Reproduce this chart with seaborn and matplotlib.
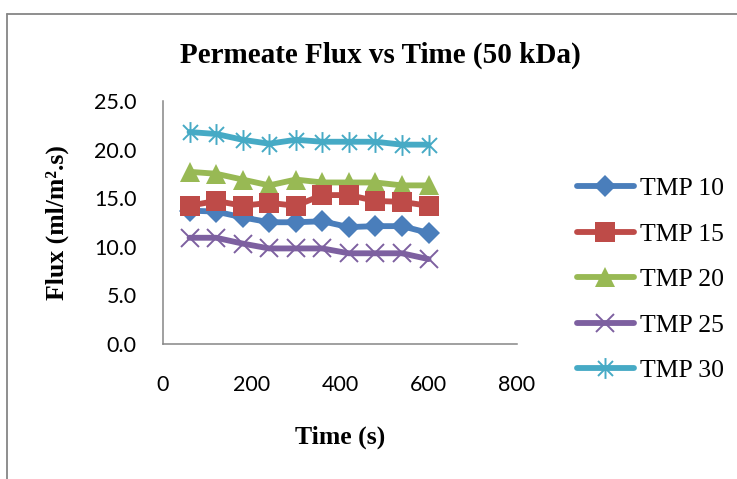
import matplotlib
matplotlib.use("Agg")
import matplotlib.pyplot as plt
from matplotlib.path import Path
from matplotlib.lines import Line2D
import seaborn as sns
import pandas as pd

time_s = [60, 120, 180, 240, 300, 360, 420, 480, 540, 600]
tmp10 = [13.7, 13.6, 13.0, 12.5, 12.5, 12.6, 12.0, 12.1, 12.1, 11.4]
tmp15 = [14.2, 14.7, 14.2, 14.5, 14.2, 15.3, 15.3, 14.7, 14.6, 14.2]
tmp20 = [17.7, 17.5, 16.9, 16.3, 16.9, 16.6, 16.6, 16.6, 16.3, 16.3]
tmp25 = [10.9, 10.9, 10.3, 9.8, 9.8, 9.8, 9.3, 9.3, 9.3, 8.7]
tmp30 = [21.8, 21.6, 21.0, 20.6, 21.0, 20.8, 20.8, 20.8, 20.5, 20.5]
series_names = ["TMP 10", "TMP 15", "TMP 20", "TMP 25", "TMP 30"]
series_values = [tmp10, tmp15, tmp20, tmp25, tmp30]
x_ticks = [0, 200, 400, 600, 800]
y_ticks = [0, 5, 10, 15, 20, 25]

sns.set_theme(style="white")
plt.rcParams["text.color"] = "black"

star = Path([(0, -1), (0, 1), (-0.72, -0.72), (0.72, 0.72), (-0.72, 0.72), (0.72, -0.72)],
            [Path.MOVETO, Path.LINETO, Path.MOVETO, Path.LINETO, Path.MOVETO, Path.LINETO])

styles = [
    dict(color="#4A7EBB", marker="D", markersize=11.5, mew=0, zorder=3),
    dict(color="#BE4B48", marker="s", markersize=14.5, mew=0, zorder=5),
    dict(color="#98B954", marker="^", markersize=14.5, mew=0, zorder=4),
    dict(color="#7D60A0", marker="x", markersize=13.5, mew=1.4, zorder=6),
    dict(color="#46AAC5", marker=star, markersize=15, mew=1.4, zorder=7),
]

fig = plt.figure(figsize=(7.37, 4.79), dpi=100)
ax = fig.add_axes([163 / 737, 1 - 343.5 / 479, (517 - 163) / 737, (343.5 - 101) / 479])

for name, vals, st in zip(series_names, series_values, styles):
    df = pd.DataFrame({"time": time_s, "flux": vals})
    sns.lineplot(data=df, x="time", y="flux", ax=ax, label=name, linewidth=4.2,
                 color=st["color"], marker=st["marker"], markersize=st["markersize"],
                 markeredgewidth=st["mew"], markeredgecolor=st["color"],
                 zorder=st["zorder"], solid_capstyle="round", solid_joinstyle="round")

ax.set_xlim(0, 800)
ax.set_ylim(0, 25)
ax.set_xticks(x_ticks)
ax.set_yticks(y_ticks)
tick_font = dict(family="Lato", size=15.5, color="black")
ax.set_xticklabels([str(v) for v in x_ticks], **tick_font)
ax.set_yticklabels([f"{v:.1f}" for v in y_ticks], **tick_font)
ax.tick_params(axis="x", length=0, pad=23)
ax.tick_params(axis="y", length=0, pad=19)
for s in ["top", "right"]:
    ax.spines[s].set_visible(False)
for s in ["left", "bottom"]:
    ax.spines[s].set_color("#868686")
    ax.spines[s].set_linewidth(1.1)
ax.grid(False)

lab_font = dict(family="Liberation Serif", weight="bold", size=18.5, color="black")
ax.set_xlabel("Time (s)", labelpad=22, **lab_font)
ax.set_ylabel("Flux (ml/m².s)", labelpad=18, **lab_font)
fig.text(380 / 737, 1 - 55 / 479, "Permeate Flux vs Time (50 kDa)", ha="center", va="center",
         family="Liberation Serif", weight="bold", size=21, color="black")

leg = ax.legend(loc="upper left", bbox_to_anchor=(577 / 737, 1 - 177 / 479),
                bbox_transform=fig.transFigure, frameon=False, borderpad=0, borderaxespad=0,
                handlelength=2.2, handletextpad=0.25, labelspacing=0.88,
                prop=dict(family="Liberation Serif", size=18.5))
for t in leg.get_texts():
    t.set_color("black")

# outer chart frame (left and top edges visible)
fig.add_artist(Line2D([7 / 737, 7 / 737], [0, 1 - 14 / 479], transform=fig.transFigure,
                      color="#868686", lw=1.3))
fig.add_artist(Line2D([7 / 737, 1], [1 - 14 / 479, 1 - 14 / 479], transform=fig.transFigure,
                      color="#868686", lw=1.3))

fig.savefig("out.png", dpi=100)
